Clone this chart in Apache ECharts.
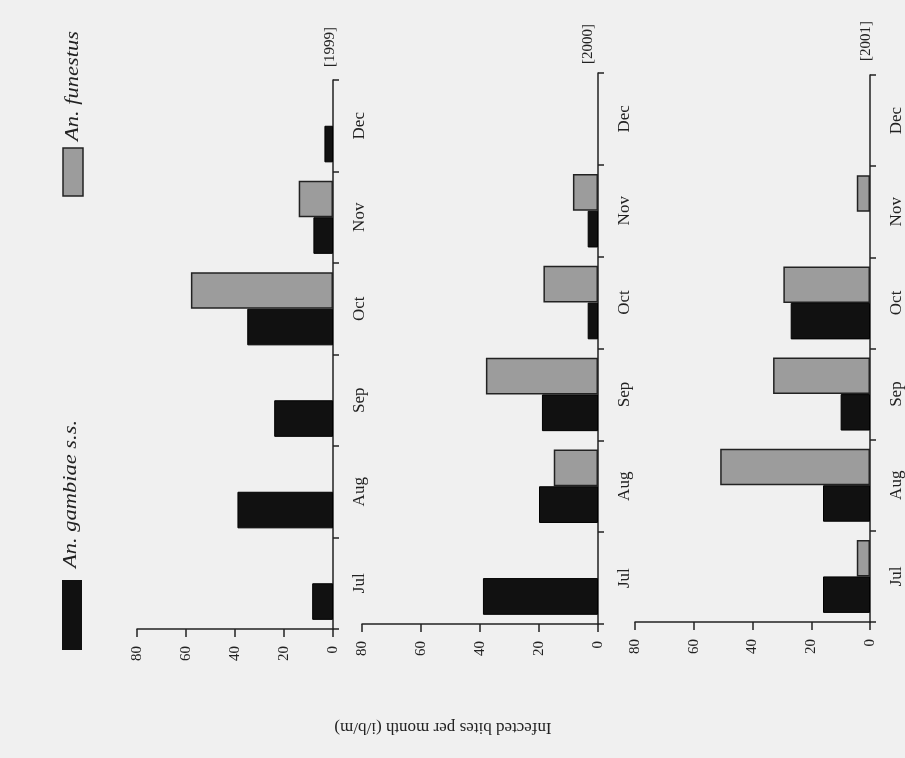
<!DOCTYPE html>
<html>
<head>
<meta charset="utf-8">
<script src="https://cdn.jsdelivr.net/npm/echarts@6/dist/echarts.min.js"></script>
<style>
  html, body { margin: 0; padding: 0; background: #f0f0f0; }
  #chart { width: 905px; height: 758px; }
</style>
</head>
<body>
<div id="chart"></div>
<script>
// Monthly infected bites (i/b/m) by species, three seasons
const months = ['Jul', 'Aug', 'Sep', 'Oct', 'Nov', 'Dec'];
const years = ['[1999]', '[2000]', '[2001]'];
const valueTicks = [0, 20, 40, 60, 80];

const gambiae1999 = [8.5, 39, 24, 35, 8, 3.5];
const funestus1999 = [0, 0, 0, 58, 14, 0];
const gambiae2000 = [39, 20, 19, 3.5, 3.5, 0];
const funestus2000 = [0, 15, 38, 18.5, 8.5, 0];
const gambiae2001 = [16, 16, 10, 27, 0, 0];
const funestus2001 = [4.5, 51, 33, 29.5, 4.5, 0];

const speciesNames = ['An. gambiae s.s.', 'An. funestus'];
const axisTitle = 'Infected bites per month (i/b/m)';

const gambiaeByYear = [gambiae1999, gambiae2000, gambiae2001];
const funestusByYear = [funestus1999, funestus2000, funestus2001];

const FONT = '"Liberation Serif", "Times New Roman", serif';
const INK = '#222';
const BLACK = '#111';
const GREY = '#9c9c9c';

// panel boxes: left edge = 80 mark, width to the zero line
const panels = [
  { left: 137, width: 196, top: 80, height: 549 },
  { left: 362, width: 236, top: 73, height: 551 },
  { left: 635, width: 238, top: 75, height: 547 }
];

const chart = echarts.init(document.getElementById('chart'), null, { renderer: 'canvas' });

const grid = panels.map(p => ({ left: p.left, top: p.top, width: p.width, height: p.height }));

const xAxis = panels.map((p, i) => ({
  type: 'value',
  gridIndex: i,
  min: valueTicks[0],
  max: valueTicks[valueTicks.length - 1],
  interval: valueTicks[1] - valueTicks[0],
  inverse: true,
  position: 'bottom',
  splitLine: { show: false },
  axisLine: { show: true, lineStyle: { color: INK, width: 1.5 } },
  axisTick: { show: true, length: 8, lineStyle: { color: INK, width: 1.5 } },
  axisLabel: { rotate: 90, margin: 17, fontFamily: FONT, fontSize: 15, color: INK }
}));

const yAxis = panels.map((p, i) => ({
  type: 'category',
  gridIndex: i,
  data: months,
  position: 'right',
  axisLine: { show: true, onZero: false, lineStyle: { color: INK, width: 1.5 } },
  axisTick: { show: true, length: 6, lineStyle: { color: INK, width: 1.5 } },
  axisLabel: { rotate: 90, margin: 18, fontFamily: FONT, fontSize: 17, color: INK }
}));

const toBar = arr => arr.map(v => (v === 0 ? null : v));

// within each month the funestus bar sits on the Dec side, gambiae on the Jul side
const series = [];
panels.forEach((p, i) => {
  series.push({
    name: speciesNames[1],
    type: 'bar',
    xAxisIndex: i,
    yAxisIndex: i,
    data: toBar(funestusByYear[i]),
    barGap: '0%',
    barCategoryGap: '20%',
    itemStyle: { color: GREY, borderColor: '#222', borderWidth: 1.5 }
  });
  series.push({
    name: speciesNames[0],
    type: 'bar',
    xAxisIndex: i,
    yAxisIndex: i,
    data: toBar(gambiaeByYear[i]),
    barGap: '0%',
    barCategoryGap: '20%',
    itemStyle: { color: BLACK, borderColor: '#000', borderWidth: 1 }
  });
});

const yearPos = [[330, 47], [588, 44], [866, 41]];

const graphic = [
  // legend swatches and names
  { type: 'rect', shape: { x: 62, y: 580, width: 20, height: 70 }, style: { fill: BLACK } },
  {
    type: 'text', x: 71, y: 494, rotation: Math.PI / 2, scaleX: 1.25,
    style: { text: speciesNames[0], fontFamily: FONT, fontStyle: 'italic', fontSize: 18, fill: INK, align: 'center', verticalAlign: 'middle' }
  },
  { type: 'rect', shape: { x: 63, y: 148, width: 20, height: 48 }, style: { fill: GREY, stroke: '#222', lineWidth: 1.5 } },
  {
    type: 'text', x: 73, y: 86, rotation: Math.PI / 2, scaleX: 1.25,
    style: { text: speciesNames[1], fontFamily: FONT, fontStyle: 'italic', fontSize: 18, fill: INK, align: 'center', verticalAlign: 'middle' }
  },
  // value axis title
  {
    type: 'text', x: 443, y: 727, rotation: Math.PI,
    style: { text: axisTitle, fontFamily: FONT, fontSize: 17, fill: INK, align: 'center', verticalAlign: 'middle' }
  }
].concat(years.map((t, i) => ({
  type: 'text', x: yearPos[i][0], y: yearPos[i][1], rotation: Math.PI / 2,
  style: { text: t, fontFamily: FONT, fontSize: 15, fill: INK, align: 'center', verticalAlign: 'middle' }
})));

chart.setOption({
  backgroundColor: '#f0f0f0',
  animation: false,
  grid: grid,
  xAxis: xAxis,
  yAxis: yAxis,
  series: series,
  graphic: graphic
});
</script>
</body>
</html>
